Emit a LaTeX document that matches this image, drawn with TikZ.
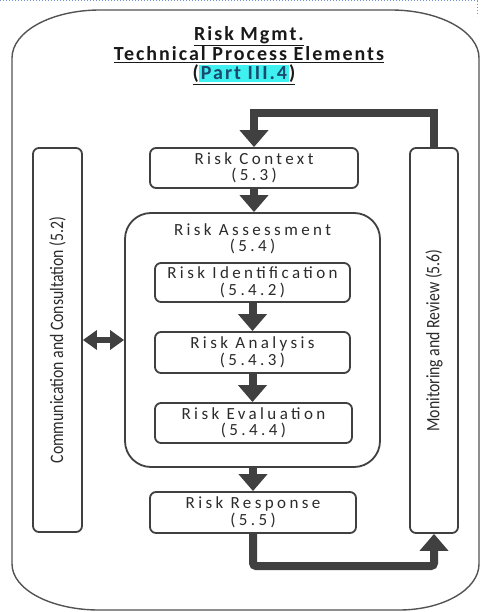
\documentclass[tikz,border=0pt]{standalone}
\usepackage{fontspec}
\usepackage{graphicx}
\setmainfont{Carlito}
\newfontfamily\titlefont[LetterSpace=10]{Carlito}
\newfontfamily\boxfont[LetterSpace=20]{Carlito}
\newfontfamily\sidefont{Carlito}
\usetikzlibrary{arrows.meta}
\definecolor{ink}{HTML}{404040}
\definecolor{txt}{HTML}{2B2B2B}
\definecolor{hl}{HTML}{3FF0F0}
\definecolor{partblue}{HTML}{1A4A6E}
\definecolor{dotblue}{HTML}{6F93D3}

\begin{document}
\begin{tikzpicture}[x=1pt,y=-1pt,
  frame/.style={draw=ink!90, line width=1.4pt},
  stepbox/.style={draw=ink, line width=1.8pt, rounded corners=6pt, fill=white,
    inner sep=0pt, text=txt, align=center,
    font=\boxfont\fontsize{17}{16.5}\selectfont},
  bigbox/.style={draw=ink, line width=1.8pt, rounded corners=26pt, inner sep=0pt},
  sidebox/.style={draw=ink, line width=1.8pt, rounded corners=6pt, inner sep=0pt,
    rotate=90, text=txt, font=\sidefont\fontsize{19}{20}\selectfont},
  flow/.style={draw=ink, line width=8pt, -{Triangle[width=28pt,length=17pt]}},
  both/.style={draw=ink, line width=6pt,
    {Triangle[width=19pt,length=14pt]}-{Triangle[width=19pt,length=14pt]}},
  title/.style={inner sep=0pt, text=black!90, font=\titlefont\bfseries\fontsize{20}{21}\selectfont}
]
\useasboundingbox (0,0) rectangle (480,612);

% page edge marker
\draw[dotblue, dotted, line width=1pt] (0,1) -- (477,1) -- (477,16);

% outer rounded frame
\draw[frame] (12,58) arc[start angle=180, end angle=270, x radius=88, y radius=48]
  -- (391,10) arc[start angle=270, end angle=360, x radius=88, y radius=48]
  -- (479,564) arc[start angle=0, end angle=90, x radius=80, y radius=46]
  -- (99,610) arc[start angle=90, end angle=180, x radius=87, y radius=46]
  -- cycle;

% heading
\node[title] (t1) at (249,36) {\underline{Risk Mgmt.}};
\node[title] (t2) at (249,55) {\underline{Technical Process Elements}};
\node[title] (t3) at (244,75) {\underline{(\setlength{\fboxsep}{2pt}\colorbox{hl}{\textcolor{partblue}{Part III.4}})}};

% process steps
\node[stepbox, minimum width=208, minimum height=40] (ctx) at (254,168)
  {Risk Context\\(5.3)};
\node[bigbox, minimum width=255, minimum height=254] (assess) at (252.5,340) {};
\node[inner sep=0pt, text=txt, align=center,
  font=\boxfont\fontsize{17}{16.5}\selectfont] (assesstxt) at (252.5,239)
  {Risk Assessment\\(5.4)};
\node[stepbox, minimum width=195, minimum height=39] (ident) at (252.5,282.5)
  {Risk Identification\\(5.4.2)};
\node[stepbox, minimum width=195, minimum height=41] (anal) at (252.5,352.5)
  {Risk Analysis\\(5.4.3)};
\node[stepbox, minimum width=197, minimum height=40] (eval) at (253.5,423)
  {Risk Evaluation\\(5.4.4)};
\node[stepbox, minimum width=206, minimum height=41] (resp) at (253,512.5)
  {Risk Response\\(5.5)};

% side columns (rotated: node south = screen right, east = screen top)
\node[sidebox, minimum width=384, minimum height=49] (comm) at (57.5,340)
  {\scalebox{0.83}[1]{Communication and Consultation (5.2)}};
\node[sidebox, minimum width=385, minimum height=48] (mon) at (434,340.5)
  {\scalebox{0.83}[1]{Monitoring and Review (5.6)}};

% connectors
\draw[flow] (ctx.south) -- (assess.north -| ctx.south);
\draw[flow] (ident.south) -- (anal.north -| ident.south);
\draw[flow] (anal.south) -- (eval.north -| anal.south);
\draw[flow] (assess.south -| resp.north) -- (resp.north);
\draw[both] (comm.south) -- (assess.west |- comm.south);

\coordinate (topy) at (0,113);
\coordinate (lowy) at (0,566);
\draw[flow] (mon.east) -- (mon.east |- topy) -| (ctx.north);
\draw[flow, rounded corners=3pt] (resp.south) -- (resp.south |- lowy) -| (mon.west);
\end{tikzpicture}
\end{document}
